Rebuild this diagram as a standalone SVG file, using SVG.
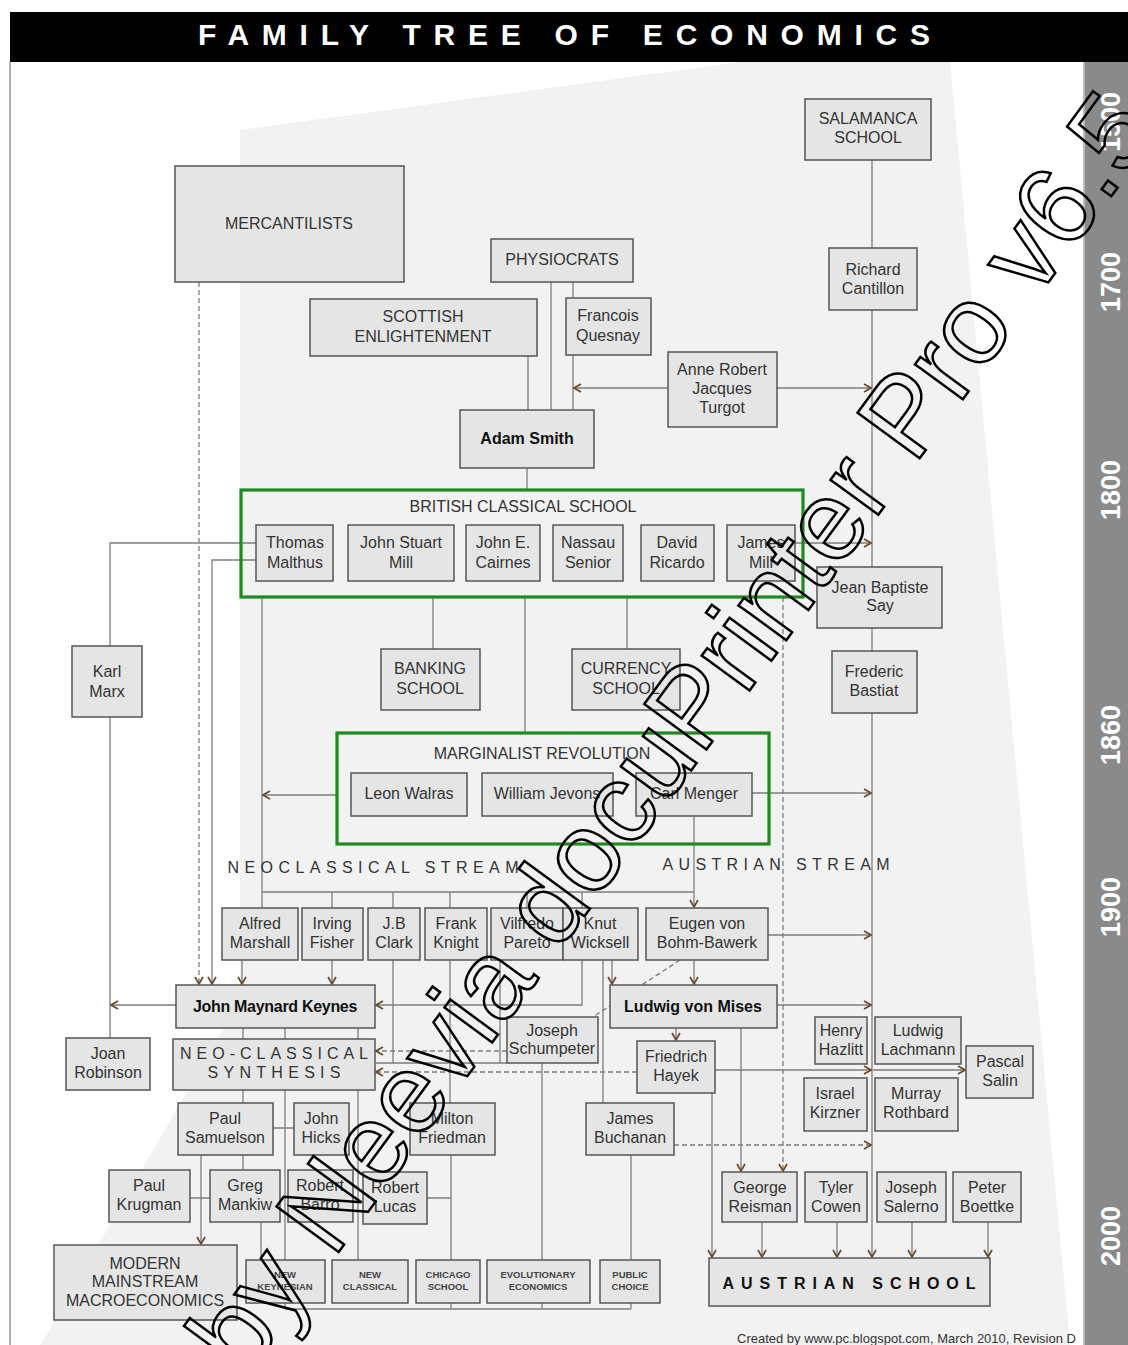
<svg xmlns="http://www.w3.org/2000/svg" width="1128" height="1345" viewBox="0 0 1128 1345">
<style>
.n rect{fill:#e5e5e5;stroke:#555;stroke-width:1.5}
.n text,.lbl{font-family:"Liberation Sans",Arial,sans-serif;font-size:16px;fill:#333;text-anchor:middle}
.b{font-weight:bold;fill:#111 !important}
.s text{font-size:9.5px;font-weight:bold;fill:#444}
.g{fill:none;stroke:#1f8a1f;stroke-width:3.2}
.c path{fill:none;stroke:#7d7d7d;stroke-width:1.3}
.c .d{stroke-dasharray:5 3}
.yr{font-family:"Liberation Sans",Arial,sans-serif;font-size:27px;font-weight:bold;fill:#fff;text-anchor:middle}
</style>
<defs>
<marker id="a" viewBox="0 0 10 10" refX="9" refY="5" markerWidth="10" markerHeight="10" markerUnits="userSpaceOnUse" orient="auto">
<path d="M2,1 L9,5 L2,9" fill="none" stroke="#6b4a25" stroke-width="1.7"/>
</marker>
</defs>
<rect width="1128" height="1345" fill="#fff"/>
<polygon points="240,130 740,62 950,62 1070,1345 40,1345 240,1000" fill="#f2f2f2"/>
<line x1="10" y1="62" x2="10" y2="1345" stroke="#999" stroke-width="1.5"/>
<rect x="10" y="12" width="1118" height="50" fill="#000"/>
<text x="564" y="45" font-family="Liberation Sans,Arial,sans-serif" font-size="30" font-weight="bold" fill="#fff" text-anchor="middle" textLength="732" lengthAdjust="spacing">FAMILY TREE OF ECONOMICS</text>

<g id="connectors" class="c">
<path d="M872,160V248M872,310V567M872,628V651"/>
<path d="M872,713V1257" marker-end="url(#a)"/>
<path d="M551,282V410M573,282V298M573,355V410M528,356V410M527,468V490"/>
<path d="M668,388H574" marker-end="url(#a)"/>
<path d="M777,388H871" marker-end="url(#a)"/>
<path d="M433,597V649M627,597V649M525,597V733"/>
<path d="M795,543H871" marker-end="url(#a)"/>
<path d="M256,543H110V646M110,717V1005V1038"/>
<path d="M176,1005H111" marker-end="url(#a)"/>
<path d="M256,560H212V984" marker-end="url(#a)"/>
<path class="d" d="M199,282V984" marker-end="url(#a)"/>
<path d="M262,597V908"/>
<path d="M337,795H263" marker-end="url(#a)"/>
<path d="M752,793H871" marker-end="url(#a)"/>
<path d="M694,816V907" marker-end="url(#a)"/>
<path d="M262,892H694M332,892V908M393,892V908M450,892V908M527,892V908M582,892V908"/>
<path d="M768,935H871" marker-end="url(#a)"/>
<path d="M694,960V984" marker-end="url(#a)"/>
<path d="M612,960V984" marker-end="url(#a)"/>
<path d="M603,960V1103"/>
<path d="M582,960V1005H376" marker-end="url(#a)"/>
<path d="M242,960V984" marker-end="url(#a)"/>
<path d="M332,960V984" marker-end="url(#a)"/>
<path d="M777,1005H871" marker-end="url(#a)"/>
<path d="M676,1028V1040" marker-end="url(#a)"/>
<path d="M741,1028V1171" marker-end="url(#a)"/>
<path d="M715,1070H871" marker-end="url(#a)"/>
<path d="M873,1070H965" marker-end="url(#a)"/>
<path d="M712,1093V1257" marker-end="url(#a)"/>
<path class="d" d="M680,960L573,1030" marker-end="url(#a)"/>
<path class="d" d="M507,1051H376" marker-end="url(#a)"/>
<path class="d" d="M637,1072H376" marker-end="url(#a)"/>
<path class="d" d="M674,1145H871" marker-end="url(#a)"/>
<path class="d" d="M783,597V1171" marker-end="url(#a)"/>
<path d="M450,960V1103M393,960V1063M500,960V1063M376,1063H507"/>
<path d="M243,1028V1039M285,1028V1039M358,1028V1039M243,1090V1103M285,1090V1260M358,1090V1260"/>
<path d="M273,1128H294M243,1155V1170M190,1198H210M261,1222V1260M427,1198H451M451,1155V1260M542,1063V1260M631,1155V1260"/>
<path d="M201,1155V1244" marker-end="url(#a)"/>
<path d="M285,1303V1309M451,1303V1309M542,1303V1309M631,1303V1309M285,1309H631"/>
<path d="M762,1222V1257" marker-end="url(#a)"/>
<path d="M837,1222V1257" marker-end="url(#a)"/>
<path d="M912,1222V1257" marker-end="url(#a)"/>
<path d="M988,1222V1257" marker-end="url(#a)"/>
</g>

<g id="british-classical"><rect class="g" x="241" y="490" width="562" height="107" fill="#f5f5f5"/><text class="lbl" x="523" y="512" font-size="15">BRITISH CLASSICAL SCHOOL</text></g>
<g id="marginalist"><rect class="g" x="337" y="733" width="432" height="111" fill="#f5f5f5"/><text class="lbl" x="542" y="759" font-size="15">MARGINALIST REVOLUTION</text></g>

<g class="n">
<g id="salamanca"><rect x="805" y="99" width="126" height="61"/><text x="868" y="124">SALAMANCA</text><text x="868" y="143">SCHOOL</text></g>
<g id="mercantilists"><rect x="175" y="166" width="229" height="116"/><text x="289" y="229">MERCANTILISTS</text></g>
<g id="physiocrats"><rect x="491" y="239" width="142" height="43"/><text x="562" y="265">PHYSIOCRATS</text></g>
<g id="cantillon"><rect x="829" y="248" width="88" height="62"/><text x="873" y="275">Richard</text><text x="873" y="294">Cantillon</text></g>
<g id="scottish"><rect x="310" y="299" width="227" height="57"/><text x="423" y="322">SCOTTISH</text><text x="423" y="342">ENLIGHTENMENT</text></g>
<g id="quesnay"><rect x="566" y="298" width="85" height="57"/><text x="608" y="321">Francois</text><text x="608" y="341">Quesnay</text></g>
<g id="turgot"><rect x="668" y="352" width="109" height="75"/><text x="722" y="375">Anne Robert</text><text x="722" y="394">Jacques</text><text x="722" y="413">Turgot</text></g>
<g id="smith"><rect x="460" y="410" width="134" height="58"/><text class="b" x="527" y="444">Adam Smith</text></g>
<g id="malthus"><rect x="256" y="525" width="77" height="56"/><text x="295" y="548">Thomas</text><text x="295" y="568">Malthus</text></g>
<g id="jsmill"><rect x="348" y="525" width="106" height="56"/><text x="401" y="548">John Stuart</text><text x="401" y="568">Mill</text></g>
<g id="cairnes"><rect x="466" y="525" width="74" height="56"/><text x="503" y="548">John E.</text><text x="503" y="568">Cairnes</text></g>
<g id="senior"><rect x="553" y="525" width="70" height="56"/><text x="588" y="548">Nassau</text><text x="588" y="568">Senior</text></g>
<g id="ricardo"><rect x="641" y="525" width="73" height="56"/><text x="677" y="548">David</text><text x="677" y="568">Ricardo</text></g>
<g id="jmill"><rect x="727" y="525" width="68" height="56"/><text x="761" y="548">James</text><text x="761" y="568">Mill</text></g>
<g id="say"><rect x="817" y="567" width="125" height="61"/><text x="880" y="593">Jean Baptiste</text><text x="880" y="611">Say</text></g>
<g id="marx"><rect x="72" y="646" width="70" height="71"/><text x="107" y="677">Karl</text><text x="107" y="697">Marx</text></g>
<g id="banking"><rect x="381" y="649" width="99" height="61"/><text x="430" y="674">BANKING</text><text x="430" y="694">SCHOOL</text></g>
<g id="currency"><rect x="572" y="649" width="108" height="61"/><text x="626" y="674">CURRENCY</text><text x="626" y="694">SCHOOL</text></g>
<g id="bastiat"><rect x="832" y="651" width="85" height="62"/><text x="874" y="677">Frederic</text><text x="874" y="696">Bastiat</text></g>
<g id="walras"><rect x="351" y="773" width="116" height="43"/><text x="409" y="799">Leon Walras</text></g>
<g id="jevons"><rect x="482" y="773" width="131" height="43"/><text x="547" y="799">William Jevons</text></g>
<g id="menger"><rect x="636" y="773" width="116" height="43"/><text x="694" y="799">Carl Menger</text></g>
<g id="marshall"><rect x="222" y="908" width="76" height="52"/><text x="260" y="929">Alfred</text><text x="260" y="948">Marshall</text></g>
<g id="fisher"><rect x="302" y="908" width="61" height="52"/><text x="332" y="929">Irving</text><text x="332" y="948">Fisher</text></g>
<g id="clark"><rect x="368" y="908" width="52" height="52"/><text x="394" y="929">J.B</text><text x="394" y="948">Clark</text></g>
<g id="knight"><rect x="425" y="908" width="62" height="52"/><text x="456" y="929">Frank</text><text x="456" y="948">Knight</text></g>
<g id="pareto"><rect x="491" y="908" width="72" height="52"/><text x="527" y="929">Vilfredo</text><text x="527" y="948">Pareto</text></g>
<g id="wicksell"><rect x="563" y="908" width="75" height="52"/><text x="600" y="929">Knut</text><text x="600" y="948">Wicksell</text></g>
<g id="bohm"><rect x="646" y="908" width="122" height="52"/><text x="707" y="929">Eugen von</text><text x="707" y="948">Bohm-Bawerk</text></g>
<g id="keynes"><rect x="176" y="985" width="199" height="43"/><text class="b" x="275" y="1012" letter-spacing="-0.3">John Maynard Keynes</text></g>
<g id="mises"><rect x="610" y="985" width="167" height="43"/><text class="b" x="693" y="1012">Ludwig von Mises</text></g>
<g id="schumpeter"><rect x="507" y="1017" width="91" height="46"/><text x="552" y="1036" font-size="15">Joseph</text><text x="552" y="1054" font-size="15">Schumpeter</text></g>
<g id="ncs"><rect x="173" y="1039" width="202" height="51"/><text x="274" y="1059" font-size="17" textLength="188" lengthAdjust="spacing">NEO-CLASSICAL</text><text x="274" y="1078" font-size="17" textLength="133" lengthAdjust="spacing">SYNTHESIS</text></g>
<g id="robinson"><rect x="66" y="1038" width="84" height="52"/><text x="108" y="1059">Joan</text><text x="108" y="1078">Robinson</text></g>
<g id="hazlitt"><rect x="815" y="1017" width="52" height="47"/><text x="841" y="1036" font-size="15">Henry</text><text x="841" y="1055" font-size="15">Hazlitt</text></g>
<g id="lachmann"><rect x="875" y="1017" width="86" height="47"/><text x="918" y="1036" font-size="15">Ludwig</text><text x="918" y="1055" font-size="15">Lachmann</text></g>
<g id="salin"><rect x="966" y="1046" width="67" height="52"/><text x="1000" y="1067">Pascal</text><text x="1000" y="1086">Salin</text></g>
<g id="kirzner"><rect x="804" y="1078" width="63" height="53"/><text x="835" y="1099">Israel</text><text x="835" y="1118">Kirzner</text></g>
<g id="rothbard"><rect x="875" y="1078" width="83" height="53"/><text x="916" y="1099">Murray</text><text x="916" y="1118">Rothbard</text></g>
<g id="hayek"><rect x="637" y="1041" width="78" height="52"/><text x="676" y="1062">Friedrich</text><text x="676" y="1081">Hayek</text></g>
<g id="samuelson"><rect x="178" y="1103" width="95" height="52"/><text x="225" y="1124">Paul</text><text x="225" y="1143">Samuelson</text></g>
<g id="hicks"><rect x="294" y="1103" width="55" height="52"/><text x="321" y="1124">John</text><text x="321" y="1143">Hicks</text></g>
<g id="friedman"><rect x="410" y="1103" width="85" height="52"/><text x="452" y="1124">Milton</text><text x="452" y="1143">Friedman</text></g>
<g id="buchanan"><rect x="586" y="1103" width="88" height="52"/><text x="630" y="1124">James</text><text x="630" y="1143">Buchanan</text></g>
<g id="krugman"><rect x="109" y="1170" width="81" height="52"/><text x="149" y="1191">Paul</text><text x="149" y="1210">Krugman</text></g>
<g id="mankiw"><rect x="210" y="1170" width="70" height="52"/><text x="245" y="1191">Greg</text><text x="245" y="1210">Mankiw</text></g>
<g id="barro"><rect x="288" y="1170" width="65" height="52"/><text x="320" y="1191">Robert</text><text x="320" y="1210">Barro</text></g>
<g id="lucas"><rect x="363" y="1172" width="64" height="52"/><text x="395" y="1193">Robert</text><text x="395" y="1212">Lucas</text></g>
<g id="reisman"><rect x="722" y="1172" width="75" height="50"/><text x="760" y="1193">George</text><text x="760" y="1212">Reisman</text></g>
<g id="cowen"><rect x="805" y="1172" width="62" height="50"/><text x="836" y="1193">Tyler</text><text x="836" y="1212">Cowen</text></g>
<g id="salerno"><rect x="877" y="1172" width="69" height="50"/><text x="911" y="1193">Joseph</text><text x="911" y="1212">Salerno</text></g>
<g id="boettke"><rect x="953" y="1172" width="68" height="50"/><text x="987" y="1193">Peter</text><text x="987" y="1212">Boettke</text></g>
<g id="mmm"><rect x="54" y="1245" width="183" height="75"/><text x="145" y="1269">MODERN</text><text x="145" y="1287">MAINSTREAM</text><text x="145" y="1306">MACROECONOMICS</text></g>
<g id="newkeynesian" class="s"><rect x="246" y="1260" width="79" height="43"/><text x="285" y="1278">NEW</text><text x="285" y="1290">KEYNESIAN</text></g>
<g id="newclassical" class="s"><rect x="332" y="1260" width="76" height="43"/><text x="370" y="1278">NEW</text><text x="370" y="1290">CLASSICAL</text></g>
<g id="chicago" class="s"><rect x="416" y="1260" width="64" height="43"/><text x="448" y="1278">CHICAGO</text><text x="448" y="1290">SCHOOL</text></g>
<g id="evolutionary" class="s"><rect x="487" y="1260" width="103" height="43"/><text x="538" y="1278">EVOLUTIONARY</text><text x="538" y="1290">ECONOMICS</text></g>
<g id="publicchoice" class="s"><rect x="600" y="1260" width="60" height="43"/><text x="630" y="1278">PUBLIC</text><text x="630" y="1290">CHOICE</text></g>
<g id="austrian"><rect x="709" y="1258" width="281" height="48"/><text class="b" x="849" y="1289" font-size="20" textLength="253" lengthAdjust="spacing">AUSTRIAN SCHOOL</text></g>
</g>

<text class="lbl" x="373" y="873" font-size="18" fill="#444" textLength="291" lengthAdjust="spacing">NEOCLASSICAL  STREAM</text>
<text class="lbl" x="776" y="870" font-size="18" fill="#444" textLength="227" lengthAdjust="spacing">AUSTRIAN  STREAM</text>
<text x="737" y="1343" font-family="Liberation Sans,Arial,sans-serif" font-size="13" fill="#333">Created by www.pc.blogspot.com, March 2010, Revision D</text>

<g id="timeline">
<rect x="1083" y="62" width="45" height="1283" fill="#8a8a8a"/>
<line x1="1084" y1="62" x2="1084" y2="1345" stroke="#bbb" stroke-width="2"/>
<text class="yr" transform="translate(1120,122) rotate(-90)">1500</text>
<text class="yr" transform="translate(1120,282) rotate(-90)">1700</text>
<text class="yr" transform="translate(1120,490) rotate(-90)">1800</text>
<text class="yr" transform="translate(1120,735) rotate(-90)">1860</text>
<text class="yr" transform="translate(1120,907) rotate(-90)">1900</text>
<text class="yr" transform="translate(1120,1236) rotate(-90)">2000</text>
</g>

<text transform="translate(245,1380) rotate(-53.8)" font-family="Liberation Sans,Arial,sans-serif" font-size="112" fill="none" stroke="#000" stroke-width="2.5">by Neevia docuPrinter Pro v6.5</text>
</svg>
